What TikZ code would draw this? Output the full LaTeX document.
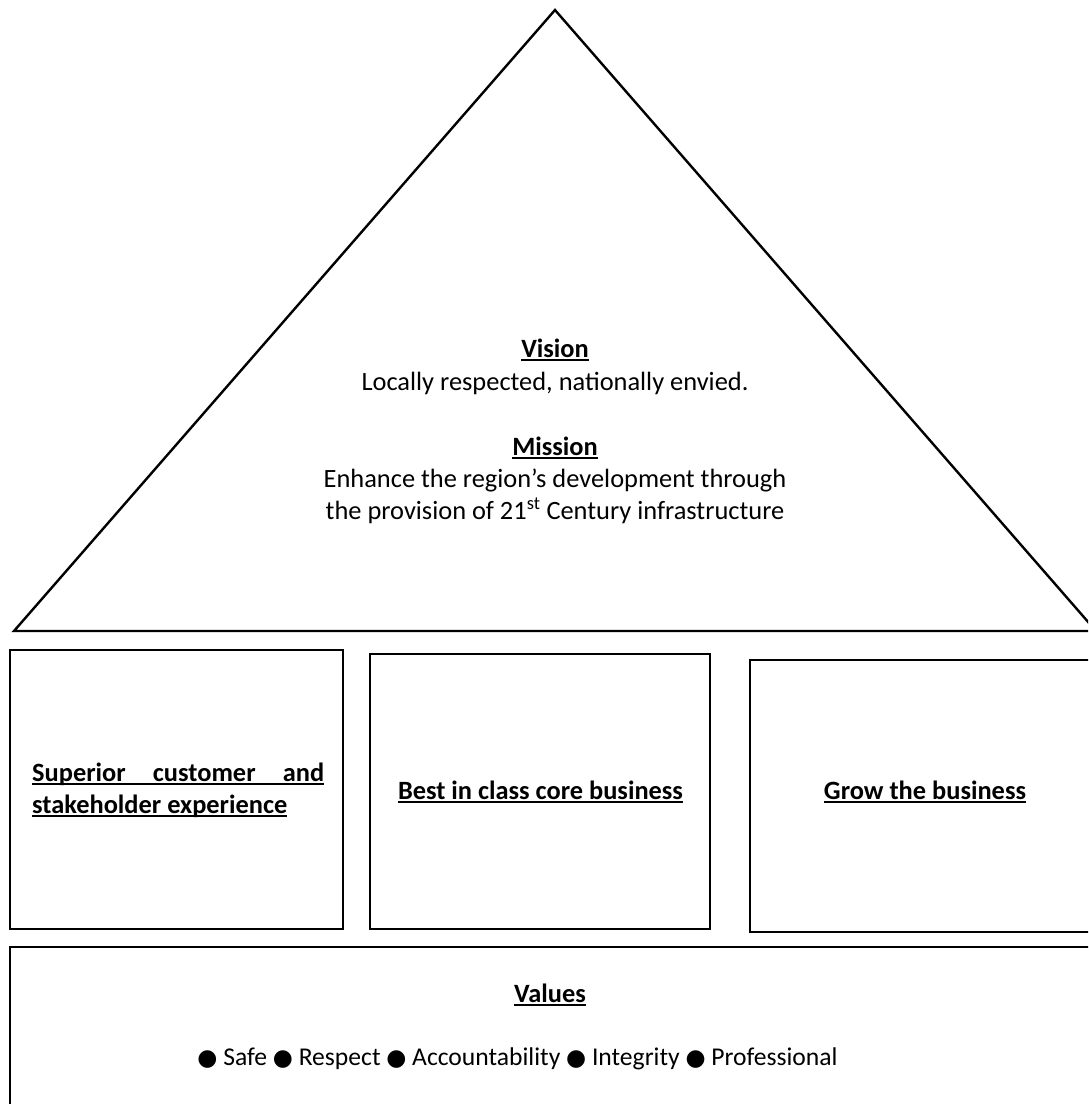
\documentclass[tikz,border=0pt]{standalone}
\usepackage{fontspec}
\setmainfont{Carlito}
\newfontfamily\symfont{DejaVu Sans}
\newcommand\myul[1]{\setbox0\hbox{#1}\rlap{\rule[-4pt]{\wd0}{2pt}}\box0}
\newcommand\bul{{\symfont\fontsize{23}{24}\selectfont ●}}
\begin{document}
\begin{tikzpicture}[x=1pt,y=-1pt,line width=2.4pt,
  txt/.style={font=\fontsize{26.4}{32}\selectfont, inner sep=0pt, anchor=base},
  hd/.style={txt, font=\fontsize{26.4}{32}\selectfont\bfseries}]
\clip (0,0) rectangle (1088,1104);
% roof
\draw[line join=miter] (555,10) -- (14,631) -- (1096,631) -- cycle;
% pillars
\draw (10,650) rectangle (343,929);
\draw (370,654) rectangle (710,929);
\draw (750,660) rectangle (1110,932);
% foundation
\draw (10,947) rectangle (1110,1120);
% roof text
\node[hd] (vis) at (555,357) {\myul{Vision}};
\node[txt] (vist) at (555,390) {Locally respected, nationally envied.};
\node[hd] (mis) at (555,455) {\myul{Mission}};
\node[txt] (mis1) at (555,487) {Enhance the region’s development through};
\node[txt] (mis2) at (555,519) {the provision of 21\textsuperscript{st} Century infrastructure};
% pillar text
\node[hd, anchor=base west] (p1a) at (31,781) {\myul{\makebox[292pt][s]{Superior customer and}}};
\node[hd, anchor=base west] (p1b) at (31,813) {\myul{stakeholder experience}};
\node[hd] (p2) at (540.5,799) {\myul{Best in class core business}};
\node[hd] (p3) at (925,799) {\myul{Grow the business}};
% values
\node[hd] (val) at (550,1002) {\myul{Values}};
\node[txt, font=\fontsize{25.6}{32}\selectfont] (vall) at (517.5,1065) {\bul{} Safe \bul{} Respect \bul{} Accountability \bul{} Integrity \bul{} Professional};
\end{tikzpicture}
\end{document}
